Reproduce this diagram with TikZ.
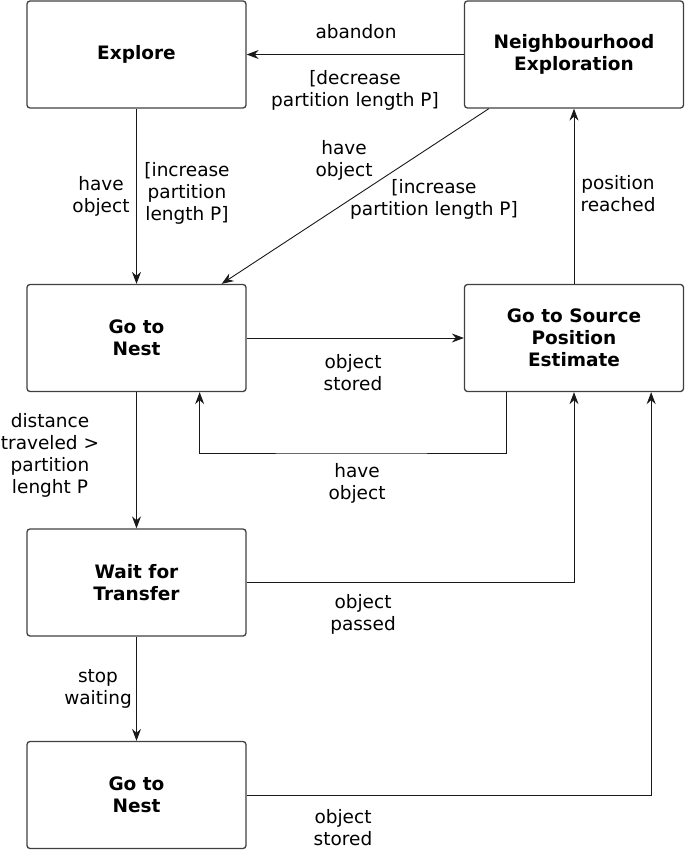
\documentclass[tikz,border=0pt]{standalone}
\usepackage{fontspec}
\setmainfont{DejaVu Sans}
\usetikzlibrary{arrows.meta,calc}
\begin{document}
\begin{tikzpicture}[x=1pt,y=-1pt,
  state/.style={draw=black!75,line width=1.3pt,rounded corners=3pt,minimum width=219pt,minimum height=107pt,inner sep=0pt,align=center,font=\fontsize{18.5}{22}\selectfont\bfseries},
  lbl/.style={align=center,inner sep=0pt,font=\fontsize{18.5}{22}\selectfont},
  conn/.style={draw=black!90,line width=0.9pt,-{Stealth[length=12pt,width=9pt,inset=4pt]}}]
\useasboundingbox (0,0) rectangle (685,850);
\node[state] (exp) at (136.5,54.5) {Explore};
\node[state] (nbh) at (574,54.5) {Neighbourhood\\Exploration};
\node[state] (nest1) at (136.5,338) {Go to\\Nest};
\node[state] (src) at (574,338) {Go to Source\\Position\\Estimate};
\node[state] (wait) at (136.5,582.5) {Wait for\\Transfer};
\node[state] (nest2) at (136.5,795) {Go to\\Nest};
\coordinate (c1) at (350,453);

\draw[conn] (nbh.west) -- (exp.east);
\draw[conn] (exp.south) -- (nest1.north);
\draw[conn] ([xshift=25pt]nbh.south west) -- ([xshift=-25pt]nest1.north east);
\draw[conn] (src.north) -- (nbh.south);
\draw[conn] (nest1.east) -- (src.west);
\draw[conn] ([xshift=43pt]src.south west) |- (c1) -| ([xshift=-47pt]nest1.south east);
\draw[conn] (nest1.south) -- (wait.north);
\draw[conn] (wait.east) -| (src.south);
\draw[conn] (wait.south) -- (nest2.north);
\draw[conn] (nest2.east) -| ([xshift=-33pt]src.south east);

\node[lbl] (l1) at (356,32) {abandon};
\node[lbl] (l2) at (355,90) {[decrease\\partition length P]};
\node[lbl] (l3) at (101,196) {have\\object};
\node[lbl] (l4) at (187,193) {[increase\\partition\\length P]};
\node[lbl] (l5) at (344,160) {have\\object};
\node[lbl] (l6) at (434,199) {[increase\\partition length P]};
\node[lbl] (l7) at (618,194) {position\\reached};
\node[lbl] (l8) at (353,373) {object\\stored};
\node[lbl] (l9) at (357,483) {have\\object};
\node[lbl] (l10) at (50,455) {distance\\traveled >\\partition\\lenght P};
\node[lbl] (l11) at (363,614) {object\\passed};
\node[lbl] (l12) at (98,689) {stop\\waiting};
\node[lbl] (l13) at (343,828) {object\\stored};
\end{tikzpicture}
\end{document}
